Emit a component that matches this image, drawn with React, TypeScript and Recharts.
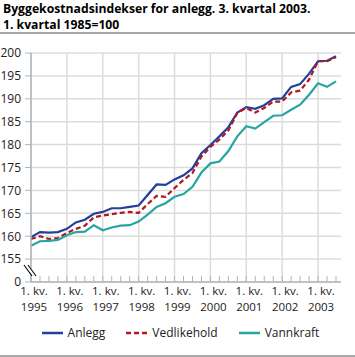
import { LineChart, Line, XAxis, YAxis, CartesianGrid, ReferenceLine, Legend } from 'recharts';

const QUARTERS = [
  '1995K1', '1995K2', '1995K3', '1995K4',
  '1996K1', '1996K2', '1996K3', '1996K4',
  '1997K1', '1997K2', '1997K3', '1997K4',
  '1998K1', '1998K2', '1998K3', '1998K4',
  '1999K1', '1999K2', '1999K3', '1999K4',
  '2000K1', '2000K2', '2000K3', '2000K4',
  '2001K1', '2001K2', '2001K3', '2001K4',
  '2002K1', '2002K2', '2002K3', '2002K4',
  '2003K1', '2003K2', '2003K3',
];

const YEAR_LABELS = ['1995', '1996', '1997', '1998', '1999', '2000', '2001', '2002', '2003'];

const ANLEGG = [
  159.8, 160.9, 160.8, 160.9,
  161.6, 163.0, 163.6, 164.9,
  165.3, 166.1, 166.1, 166.4,
  166.7, 169.0, 171.3, 171.2,
  172.4, 173.3, 174.8, 178.1,
  179.9, 181.8, 183.8, 187.0,
  188.2, 187.8, 188.6, 190.0,
  190.1, 192.6, 193.2, 195.5,
  198.2, 198.3, 199.3,
];

const VEDLIKEHOLD = [
  159.4, 160.0, 159.4, 159.6,
  160.7, 161.6, 162.3, 164.1,
  164.5, 164.8, 165.1, 165.3,
  165.1, 167.0, 168.8, 168.6,
  170.5, 172.3, 173.8, 177.4,
  179.5, 181.1, 183.1, 186.9,
  188.0, 187.0, 188.0, 189.4,
  189.4, 191.4, 191.8, 194.2,
  198.2, 198.2, 199.1,
];

const VANNKRAFT = [
  157.9, 158.9, 159.0, 159.2,
  160.2, 160.9, 161.0, 162.4,
  161.3, 161.9, 162.3, 162.4,
  163.2, 164.7, 166.4, 167.2,
  168.6, 169.2, 170.8, 173.9,
  175.9, 176.3, 178.6, 181.8,
  184.0, 183.5, 184.9, 186.3,
  186.4, 187.6, 188.7, 190.9,
  193.4, 192.6, 193.8,
];

// 150 is drawn as "0" below the axis break
const Y_TICKS = [150, 155, 160, 165, 170, 175, 180, 185, 190, 195, 200];

const FONT = '"Open Sans", sans-serif';
const TEXT = '#222';
const GRID = '#dcdcdc';
const AXIS = '#b4b4b4';

const SERIES = [
  { key: 'anlegg', name: 'Anlegg', color: '#233f98', dash: undefined as string | undefined },
  { key: 'vedlikehold', name: 'Vedlikehold', color: '#b3171f', dash: '5 3' },
  { key: 'vannkraft', name: 'Vannkraft', color: '#27a5a1', dash: undefined as string | undefined },
];

const data = QUARTERS.map((q, i) => ({
  q,
  anlegg: ANLEGG[i],
  vedlikehold: VEDLIKEHOLD[i],
  vannkraft: VANNKRAFT[i],
}));

const yearStarts = QUARTERS.filter((q) => q.endsWith('K1'));

const XTick = (props: any) => {
  const { x, y, payload } = props;
  const i = QUARTERS.indexOf(payload.value);
  const isYear = i % 4 === 0;
  return (
    <g>
      <line x1={x} x2={x} y1={y} y2={y - 6} stroke={AXIS} />
      {isYear && (
        <text textAnchor="middle" fill={TEXT} fontSize={11.5} fontFamily={FONT}>
          <tspan x={x + 3} y={y + 13}>1. kv.</tspan>
          <tspan x={x + 3} y={y + 29}>{YEAR_LABELS[i / 4]}</tspan>
        </text>
      )}
    </g>
  );
};

const YTick = (props: any) => {
  const { x, y, payload } = props;
  const v = payload.value;
  const ax = x + 10;
  return (
    <g>
      <text x={x} y={y} dy="0.36em" textAnchor="end" fill={TEXT} fontSize={12} fontFamily={FONT}>
        {v === 150 ? '0' : v}
      </text>
      {v === 150 && (
        <g>
          <polygon points={`${ax - 6},${y - 17} ${ax - 2},${y - 17} ${ax + 6},${y - 6} ${ax + 2},${y - 6}`} fill="#fff" />
          <line x1={ax - 7} y1={y - 17} x2={ax + 1} y2={y - 6} stroke="#111" strokeWidth={1.2} />
          <line x1={ax - 3} y1={y - 17} x2={ax + 5} y2={y - 6} stroke="#111" strokeWidth={1.2} />
        </g>
      )}
    </g>
  );
};

const LegendContent = () => (
  <div style={{ display: 'flex', justifyContent: 'center', alignItems: 'center', fontFamily: FONT, fontSize: 12, color: TEXT, paddingLeft: 6 }}>
    {SERIES.map((s, i) => (
      <div key={s.key} style={{ display: 'flex', alignItems: 'center', marginLeft: i === 0 ? 0 : 21 }}>
        <svg width={21} height={6} style={{ marginRight: 5 }}>
          <line x1={0} x2={21} y1={3} y2={3} stroke={s.color} strokeWidth={2.5} strokeDasharray={s.dash ? '5 3' : undefined} />
        </svg>
        <span>{s.name}</span>
      </div>
    ))}
  </div>
);

export default function App() {
  return (
    <div style={{ position: 'absolute', left: 0, top: 0, width: 355, height: 357, background: '#fff', fontFamily: FONT }}>
      <div style={{ position: 'absolute', left: 3, top: 1, fontSize: 12.2, fontWeight: 700, lineHeight: '16px', color: '#000', whiteSpace: 'nowrap' }}>
        <div>Byggekostnadsindekser for anlegg. 3. kvartal 2003.</div>
        <div>1. kvartal 1985=100</div>
      </div>
      <div style={{ position: 'absolute', left: 0, top: 32, width: 355, height: 2, background: '#a8a8a8' }} />
      <div style={{ position: 'absolute', left: 0, top: 355, width: 355, height: 2, background: '#a8a8a8' }} />
      <div style={{ position: 'absolute', left: 0, top: 0 }}>
        <LineChart width={355} height={357} data={data} margin={{ top: 53, right: 14, bottom: 35, left: 0 }}>
          <CartesianGrid vertical={false} stroke={GRID} strokeWidth={1.5} />
          {yearStarts.map((q) => (
            <ReferenceLine key={q} x={q} stroke={GRID} strokeWidth={1.5} />
          ))}
          <XAxis
            dataKey="q"
            interval={0}
            height={40}
            tickSize={0}
            tickMargin={0}
            tickLine={false}
            padding={{ left: 0, right: 5 }}
            axisLine={{ stroke: AXIS, strokeWidth: 1.5 }}
            tick={<XTick />}
          />
          <YAxis
            type="number"
            domain={[150, 200]}
            ticks={Y_TICKS}
            interval={0}
            width={31}
            tickSize={6}
            tickMargin={4}
            tickLine={{ stroke: AXIS }}
            axisLine={{ stroke: AXIS, strokeWidth: 1.5 }}
            tick={<YTick />}
          />
          {SERIES.map((s) => (
            <Line
              key={s.key}
              type="linear"
              dataKey={s.key}
              name={s.name}
              stroke={s.color}
              strokeWidth={2.2}
              strokeDasharray={s.dash}
              dot={false}
              activeDot={false}
              isAnimationActive={false}
            />
          ))}
          <Legend verticalAlign="middle" align="center" wrapperStyle={{ top: 324, left: 0, width: 355 }} content={<LegendContent />} />
        </LineChart>
      </div>
    </div>
  );
}
